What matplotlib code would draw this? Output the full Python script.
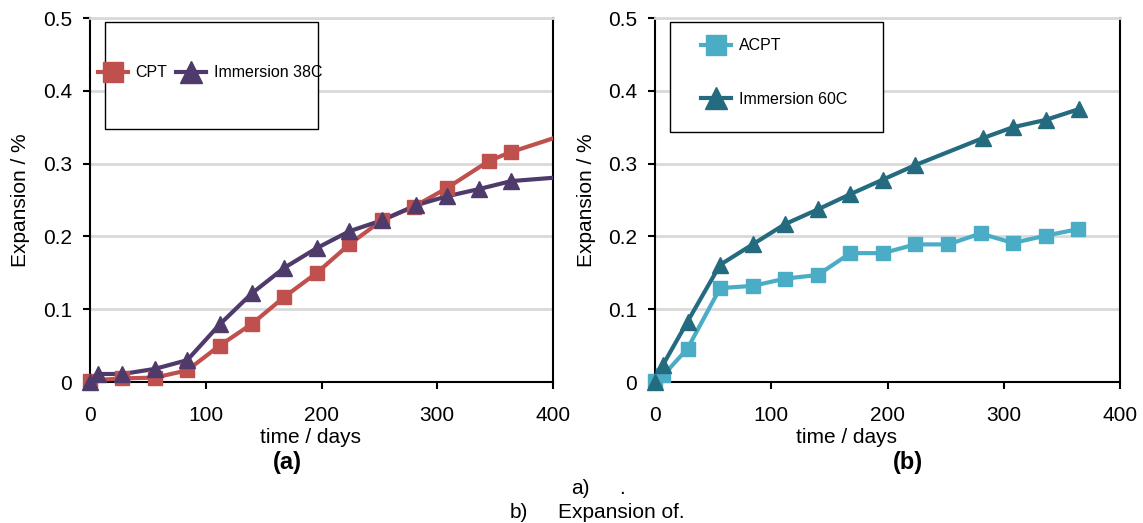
import numpy as np
import matplotlib
matplotlib.use("Agg")
import matplotlib.pyplot as plt
from matplotlib.patches import Rectangle

plt.rcParams['font.family'] = ['Liberation Sans', 'DejaVu Sans']

# ---- data (a) ----
cpt_days = [0, 28, 56, 84, 112, 140, 168, 196, 224, 252, 280, 308, 345, 364, 420]
cpt_exp = [0.002, 0.005, 0.006, 0.016, 0.050, 0.080, 0.117, 0.150, 0.189, 0.222, 0.241, 0.266, 0.304, 0.316, 0.345]
imm38_days = [0, 7, 28, 56, 84, 112, 140, 168, 196, 224, 252, 282, 308, 336, 364, 420]
imm38_exp = [0.0, 0.011, 0.011, 0.018, 0.030, 0.079, 0.122, 0.157, 0.184, 0.207, 0.222, 0.243, 0.255, 0.265, 0.276, 0.283]

# ---- data (b) ----
acpt_days = [0, 7, 28, 56, 84, 112, 140, 168, 196, 224, 252, 280, 308, 336, 364]
acpt_exp = [0.002, 0.009, 0.046, 0.129, 0.132, 0.142, 0.147, 0.177, 0.177, 0.189, 0.189, 0.204, 0.191, 0.201, 0.210]
imm60_days = [0, 7, 28, 56, 84, 112, 140, 168, 196, 224, 282, 308, 336, 365]
imm60_exp = [0.0, 0.024, 0.083, 0.161, 0.189, 0.217, 0.237, 0.258, 0.278, 0.298, 0.335, 0.350, 0.360, 0.375]

xticks = [0, 100, 200, 300, 400]
yticks = [0, 0.1, 0.2, 0.3, 0.4, 0.5]
ytick_labels = ['0', '0.1', '0.2', '0.3', '0.4', '0.5']

C_CPT = '#C0504D'
C_38 = '#4E3B6B'
C_ACPT = '#4BACC6'
C_60 = '#246B80'

W, H = 1143, 523
fig = plt.figure(figsize=(W / 100, H / 100), dpi=100)

def px_axes(x0, x1, y0, y1):
    return fig.add_axes([x0 / W, 1 - y1 / H, (x1 - x0) / W, (y1 - y0) / H])

axA = px_axes(90, 553, 18, 382)
axB = px_axes(655, 1120, 18, 382)

def series(ax, days, vals, color, marker, ms, label):
    d = np.asarray(days, float)
    v = np.asarray(vals, float)
    ax.plot(d, v, color=color, lw=3, zorder=3)
    m = d <= 400
    ax.plot(d[m], v[m], ls='none', marker=marker, ms=ms, color=color,
            mec=color, clip_on=False, zorder=4, label=label)

def style(ax):
    ax.set_xlim(0, 400)
    ax.set_ylim(0, 0.5)
    ax.set_xticks(xticks)
    ax.set_xticklabels([str(t) for t in xticks])
    ax.set_yticks(yticks)
    ax.set_yticklabels(ytick_labels)
    ax.grid(axis='y', color='#D9D9D9', lw=2, zorder=0)
    ax.set_axisbelow(True)
    for s in ['left', 'bottom', 'right']:
        ax.spines[s].set_color('black')
        ax.spines[s].set_linewidth(1.5)
    ax.spines['top'].set_color('#D9D9D9')
    ax.spines['top'].set_linewidth(2)
    ax.tick_params(axis='x', direction='out', length=5, width=1.5, pad=12, labelsize=15)
    ax.tick_params(axis='y', direction='out', length=5, width=1.5, pad=8, labelsize=15)

series(axA, cpt_days, cpt_exp, C_CPT, 's', 10, 'CPT')
series(axA, imm38_days, imm38_exp, C_38, '^', 11, 'Immersion 38C')
series(axB, acpt_days, acpt_exp, C_ACPT, 's', 10, 'ACPT')
series(axB, imm60_days, imm60_exp, C_60, '^', 11, 'Immersion 60C')

for ax in (axA, axB):
    style(ax)
    ax.set_ylabel('Expansion / %', fontsize=15)

axA.set_xlabel('time / days', fontsize=15)
axB.set_xlabel('time / days', fontsize=15)
axA.xaxis.set_label_coords((310 - 90) / 463, (382 - 428) / 364)
axB.xaxis.set_label_coords((846 - 655) / 465, (382 - 428) / 364)
axA.yaxis.set_label_coords((30 - 90) / 463, 0.5)
axB.yaxis.set_label_coords((596 - 655) / 465, 0.5)

# legend frames
axA.add_patch(Rectangle((0.032, 0.695), 0.46, 0.294, transform=axA.transAxes,
                        fill=True, fc='white', ec='black', lw=1, zorder=5, clip_on=False))
axB.add_patch(Rectangle((0.032, 0.687), 0.458, 0.302, transform=axB.transAxes,
                        fill=True, fc='white', ec='black', lw=1, zorder=5, clip_on=False))

legA = axA.legend(loc='center left', bbox_to_anchor=(0.017, 0.850), ncol=2,
                  frameon=False, fontsize=11.5, handlelength=1.9, handletextpad=0.45,
                  columnspacing=0.55, borderpad=0, borderaxespad=0, markerscale=1.45)
legA.set_zorder(6)
for h in legA.get_lines():
    h.set_linestyle('-')
    h.set_linewidth(3)

legB = axB.legend(loc='center left', bbox_to_anchor=(0.099, 0.850), ncol=1,
                  frameon=False, fontsize=11.5, handlelength=1.9, handletextpad=0.5,
                  labelspacing=2.4, borderpad=0, borderaxespad=0, markerscale=1.45)
legB.set_zorder(6)
for h in legB.get_lines():
    h.set_linestyle('-')
    h.set_linewidth(3)

fig.text(287 / W, 1 - 463 / H, '(a)', fontsize=17, fontweight='bold', ha='center', va='center')
fig.text(908 / W, 1 - 463 / H, '(b)', fontsize=17, fontweight='bold', ha='center', va='center')
fig.text(580 / W, 1 - 489 / H, 'a)', fontsize=15, ha='center', va='center')
fig.text(622 / W, 1 - 489 / H, '.', fontsize=15, ha='center', va='center')
fig.text(519 / W, 1 - 512 / H, 'b)', fontsize=15, ha='center', va='center')
fig.text(621 / W, 1 - 512 / H, 'Expansion of.', fontsize=15, ha='center', va='center')

fig.savefig('out.png', dpi=100)
